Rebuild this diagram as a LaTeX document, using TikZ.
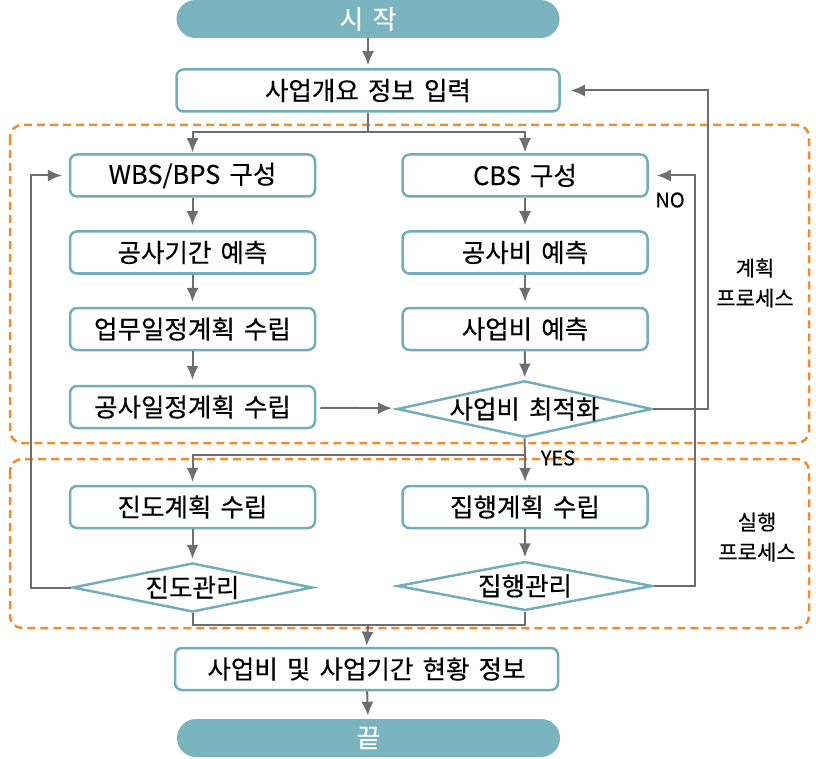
\documentclass[tikz,border=0pt]{standalone}
\usepackage{fontspec}
\setmainfont{Noto Sans CJK KR}[WordSpace=1.6, FakeBold=0.4]
\usetikzlibrary{shapes.geometric, arrows.meta}

\definecolor{boxline}{HTML}{72AEB9}
\definecolor{pillfill}{HTML}{7AB4BE}
\definecolor{zone}{HTML}{F28A2E}
\definecolor{wire}{HTML}{6E6E6E}

\begin{document}
\begin{tikzpicture}[x=1pt, y=-1pt, >={Latex[length=14pt, width=12pt]},
	box/.style={draw=boxline, line width=2.5pt, rounded corners=7pt, fill=white,
		minimum width=245pt, minimum height=42pt, inner sep=0pt,
		font=\fontsize{25.5}{28}\selectfont},
	pill/.style={fill=pillfill, rounded corners=19pt, minimum width=383pt,
		minimum height=38pt, inner sep=0pt, text=white,
		font=\fontsize{26}{28}\selectfont},
	decide/.style={diamond, aspect=4.5, draw=boxline, line width=2.5pt, fill=white,
		minimum width=240pt, minimum height=49pt, inner sep=0pt,
		font=\fontsize{25.5}{28}\selectfont},
	zonebox/.style={draw=zone, line width=2.5pt, dash pattern=on 8pt off 5pt,
		rounded corners=12pt},
	flow/.style={draw=wire, line width=2pt, ->, shorten >=5pt},
	link/.style={draw=wire, line width=2pt},
	side/.style={align=center, font=\fontsize{21}{30}\selectfont},
	tag/.style={inner sep=0pt, font=\fontsize{20}{22}\selectfont}]

	\useasboundingbox (0,0) rectangle (816,759);

	\draw[zonebox] (10,125) rectangle (809,443);
	\draw[zonebox] (10,459) rectangle (809,628);

	\node[pill] (start) at (368,19) {시 작};
	\node[box, minimum width=383pt] (info) at (368,90.5) {사업개요 정보 입력};

	\node[box] (wbs) at (192.5,175.5) {WBS/BPS 구성};
	\node[box] (period) at (192.5,252.5) {공사기간 예측};
	\node[box] (task) at (192.5,329) {업무일정계획 수립};
	\node[box] (sched) at (192.5,407) {공사일정계획 수립};

	\node[box] (cbs) at (525,175.5) {CBS 구성};
	\node[box] (cost) at (525,252.5) {공사비 예측};
	\node[box] (budget) at (525,329) {사업비 예측};
	\node[decide, minimum width=255pt, minimum height=56pt] (opt) at (524.5,409) {사업비 최적화};

	\node[box] (prplan) at (192.5,507) {진도계획 수립};
	\node[decide] (prmg) at (192.5,587.5) {진도관리};
	\node[box] (explan) at (525,507) {집행계획 수립};
	\node[decide, minimum width=255pt] (exmg) at (525,586) {집행관리};

	\node[box, minimum width=383pt] (status) at (366.5,669) {사업비 및 사업기간 현황 정보};
	\node[pill] (finish) at (368.5,738) {끝};

	\node[side] (plan) at (755,283) {계획\\프로세스};
	\node[side] (run) at (757,537) {실행\\프로세스};

	\coordinate (split) at (368,132);
	\coordinate (yes) at (525,455);
	\coordinate (merge) at (368,625);

	\draw[flow, shorten >=3pt] (start) -- (info);
	\draw[link] (info.south) -- (split);
	\draw[flow, shorten >=1pt] (split) -| (wbs.north);
	\draw[flow, shorten >=1pt] (split) -| (cbs.north);

	\draw[flow] (wbs) -- (period);
	\draw[flow] (period) -- (task);
	\draw[flow] (task) -- (sched);
	\draw[flow, shorten >=7pt, shorten <=4pt] (sched) -- (opt);

	\draw[flow] (cbs) -- (cost);
	\draw[flow] (cost) -- (budget);
	\draw[flow, shorten >=2pt] (budget) -- (opt);

	\draw[flow, shorten >=10pt] (opt.east) -- ++(55,0) |- (info.east);
	\draw[flow, shorten >=8pt] (exmg.east) -- ++(41,0) |- (cbs.east);
	\node[tag] (no) at (670,200) {NO};

	\draw[link] (opt.south) -- (yes);
	\draw[flow, shorten >=3pt] (yes) -- (explan.north);
	\draw[flow, shorten >=3pt] (yes) -| (prplan.north);
	\node[tag] (yeslbl) at (558,458) {YES};

	\draw[flow, shorten >=3pt] (prplan) -- (prmg);
	\draw[flow, shorten >=3pt] (explan) -- (exmg);
	\draw[flow, shorten >=7pt] (prmg.west) -- ++(-40,0) |- (wbs.west);

	\draw[link] (prmg.south) |- (merge) -| (exmg.south);
	\draw[flow, shorten >=1pt] (merge) -- (status.north);
	\draw[flow, shorten >=3pt] (status) -- (finish);
\end{tikzpicture}
\end{document}
